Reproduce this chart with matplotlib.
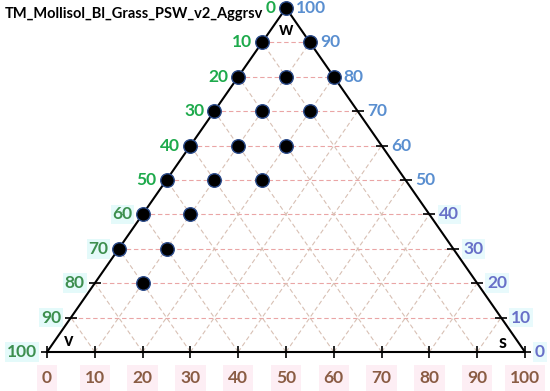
import matplotlib.pyplot as plt
import matplotlib.transforms as mtransforms

plt.rcParams["font.family"] = ["Lato", "DejaVu Sans"]

# composition of each sample (percent): w = top vertex, s = right vertex
w_pct = [100, 90, 90, 80, 80, 80, 70, 70, 70, 60, 60, 60, 50, 50, 50, 40, 40, 30, 30, 20]
s_pct = [0, 0, 10, 0, 10, 20, 0, 10, 20, 0, 10, 20, 0, 10, 20, 0, 10, 0, 10, 10]

ticks = list(range(0, 101, 10))
left_labels = [str(t) for t in ticks]          # 0 at top, 100 at bottom-left
right_labels = [str(t) for t in ticks]         # 0 at bottom-right, 100 at top
bottom_labels = [str(t) for t in ticks]
title = "TM_Mollisol_Bl_Grass_PSW_v2_Aggrsv"

W, H = 550, 391
x0_px, x1_px, ybase_px, ytop_px = 47, 525, 352, 8
sx = (x1_px - x0_px) / 100.0
sy = (ybase_px - ytop_px) / 100.0

fig = plt.figure(figsize=(W / 100, H / 100), dpi=100)
ax = fig.add_axes([0, 0, 1, 1])
ax.set_xlim(-x0_px / sx, (W - x0_px) / sx)
ax.set_ylim(-(H - ybase_px) / sy, 100 + ytop_px / sy)
ax.axis("off")


def xy(w, s):
    return s + w / 2.0, w


def offset(dx, dy):
    return ax.transData + mtransforms.ScaledTranslation(dx / 100, dy / 100, fig.dpi_scale_trans)


# grid
hcol, dcol = "#eaa5a5", "#d8c0b4"
dash = (0, (4, 2.5))
for t in ticks[1:-1]:
    ax.plot([t / 2, 100 - t / 2], [t, t], ls=dash, lw=0.8, color=hcol, zorder=1)
    # constant s (parallel to left edge)
    ax.plot([t, t + (100 - t) / 2], [0, 100 - t], ls=dash, lw=0.8, color=dcol, zorder=1)
    # constant v (parallel to right edge)
    ax.plot([t, t / 2], [0, t], ls=dash, lw=0.8, color=dcol, zorder=1)

# triangle
ax.plot([0, 100, 50, 0], [0, 0, 100, 0], color="black", lw=1.5, zorder=2)

# tick marks
for t in ticks:
    ax.plot([t], [0], marker="|", ms=8, mew=1.2, color="black", zorder=2)
    lx, ly = xy(100 - t, 0)
    ax.plot([lx], [ly], marker="_", ms=8, mew=1.2, color="black", zorder=2)
    rx, ry = xy(t, 100 - t)
    ax.plot([rx], [ry], marker="_", ms=8, mew=1.2, color="black", zorder=2)

# points
px = [s + w / 2 for w, s in zip(w_pct, s_pct)]
ax.scatter(px, w_pct, s=95, color="black", edgecolor="#2a4a8a", linewidth=1.0, zorder=3)

fs = 12.5
# left labels (green)
for t, lab in zip(ticks, left_labels):
    lx, ly = xy(100 - t, 0)
    if t >= 60:
        col, bb = "#3d8f4f", dict(boxstyle="square,pad=0.1", fc="#e4fafa", ec="none")
    else:
        col, bb = "#1eaa4c", None
    ax.text(lx, ly, lab, ha="right", va="center", fontsize=fs, fontweight="bold",
            color=col, bbox=bb, transform=offset(-10, 0))

# right labels (blue)
for t, lab in zip(ticks, right_labels):
    rx, ry = xy(t, 100 - t)
    if t <= 40:
        col, bb = "#6870c8", dict(boxstyle="square,pad=0.1", fc="#e8fafc", ec="none")
    else:
        col, bb = "#5a8fd0", None
    ax.text(rx, ry, lab, ha="left", va="center", fontsize=fs, fontweight="bold",
            color=col, bbox=bb, transform=offset(10, 0))

# bottom labels (brown)
for t, lab in zip(ticks, bottom_labels):
    ax.text(t, 0, lab, ha="center", va="center", fontsize=fs, fontweight="bold",
            color="#8a5c44", bbox=dict(boxstyle="square,pad=0.3", fc="#fdeef4", ec="none"),
            transform=offset(0, -26))

# vertex labels
ax.text(50, 100, "w", ha="center", va="center", fontsize=13, fontweight="bold", transform=offset(0, -22))
ax.text(0, 0, "v", ha="center", va="center", fontsize=13, fontweight="bold", transform=offset(22, 11))
ax.text(100, 0, "s", ha="center", va="center", fontsize=13, fontweight="bold", transform=offset(-22, 10))

fig.text(5 / W, 1 - 14 / H, title, ha="left", va="center", fontsize=10.5, fontweight="bold")

fig.savefig("out.png", dpi=100)
